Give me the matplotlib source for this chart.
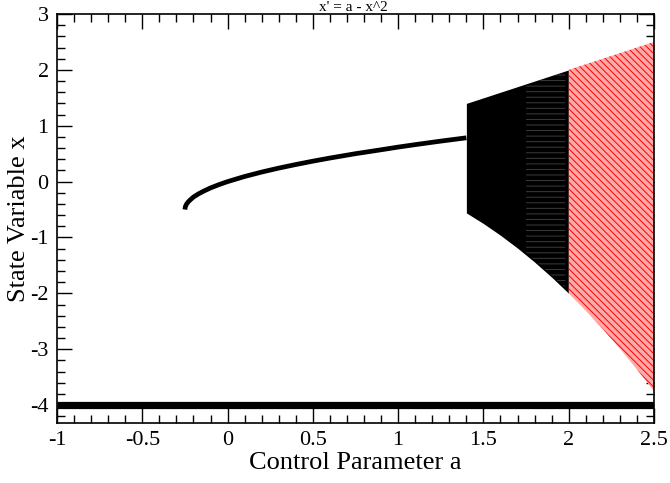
import matplotlib
matplotlib.use('Agg')
import matplotlib.pyplot as plt
from matplotlib.ticker import MultipleLocator

plt.rcParams['font.family'] = ['Liberation Serif', 'DejaVu Serif']
plt.rcParams['hatch.linewidth'] = 0.7

# stable fixed point branch
branch_a = [-0.25, -0.248, -0.245, -0.24, -0.23, -0.22, -0.2, -0.17, -0.14, -0.1, -0.05, 0.0,
            0.1, 0.2, 0.3, 0.4, 0.5, 0.6, 0.75, 0.9, 1.0, 1.1, 1.25, 1.4]
branch_x = [-0.50, -0.455, -0.43, -0.40, -0.36, -0.33, -0.276, -0.218, -0.17, -0.113, -0.053, 0.0,
            0.092, 0.171, 0.242, 0.306, 0.366, 0.422, 0.50, 0.570, 0.618, 0.662, 0.725, 0.784]

# bounded chaotic band, a = 1.4 .. 2.0
band_a = [1.4, 1.5, 1.6, 1.7, 1.8, 1.9, 2.0]
band_top = [1.40, 1.50, 1.60, 1.70, 1.80, 1.90, 2.00]
band_bot = [-0.56, -0.75, -0.96, -1.19, -1.44, -1.71, -2.00]

# part of the band where the orbit lines leave grey gaps
gap_a = [1.75, 1.8, 1.9, 1.98]
gap_top = [1.72, 1.78, 1.88, 1.96]
gap_bot = [-1.28, -1.40, -1.68, -1.90]

# escaping orbits, a = 2.0 .. 2.5
esc_a = [2.0, 2.1, 2.2, 2.3, 2.4, 2.5]
esc_top = [2.00, 2.10, 2.20, 2.30, 2.40, 2.50]
esc_bot = [-2.00, -2.31, -2.64, -2.99, -3.36, -3.75]

# orbits sent to -4
floor_a = [-1.0, 2.5]
floor_x = [-4.0, -4.0]

fig = plt.figure(figsize=(6.7, 4.83), dpi=100)
ax = fig.add_axes([57 / 670, 1 - 423 / 483, 597 / 670, (423 - 14) / 483])

ax.plot(floor_a, floor_x, color='black', lw=5.2, solid_capstyle='butt', zorder=3)
ax.plot(branch_a, branch_x, color='black', lw=3.4, solid_capstyle='butt', zorder=3)
ax.fill_between(band_a, band_bot, band_top, color='black', lw=0, zorder=2)
ax.fill_between(gap_a, gap_bot, gap_top, facecolor='none', edgecolor='#3c3c3c',
                hatch='---', lw=0, zorder=2.5)
ax.fill_between(esc_a, esc_bot, esc_top, facecolor='#ffa8a8', edgecolor='red',
                hatch='\\\\\\\\\\', lw=0, zorder=2)

ax.set_xlim(-1, 2.5)
ax.set_ylim(-4.32, 3)
ax.xaxis.set_major_locator(MultipleLocator(0.5))
ax.xaxis.set_minor_locator(MultipleLocator(0.1))
ax.yaxis.set_major_locator(MultipleLocator(1))
ax.yaxis.set_minor_locator(MultipleLocator(0.2))
ax.xaxis.set_major_formatter(plt.FuncFormatter(lambda v, p: '%g' % v))
ax.yaxis.set_major_formatter(plt.FuncFormatter(lambda v, p: '%g' % v))
ax.tick_params(which='both', direction='in', top=True, right=True, width=1, labelsize=16)
ax.tick_params(which='major', length=11)
ax.tick_params(axis='x', which='major', pad=6)
ax.tick_params(axis='y', which='major', pad=6)
ax.tick_params(which='minor', length=6)
for s in ax.spines.values():
    s.set_linewidth(1.2)

ax.set_xlabel('Control Parameter a', fontsize=19, labelpad=1)
ax.set_ylabel('State Variable x', fontsize=19, va='center')
ax.yaxis.set_label_coords(-0.064, 0.5)
fig.text(353 / 670, 1 - 11 / 483, "x' = a - x^2", ha='center', va='baseline', fontsize=11)

fig.savefig('out.png', dpi=100)
